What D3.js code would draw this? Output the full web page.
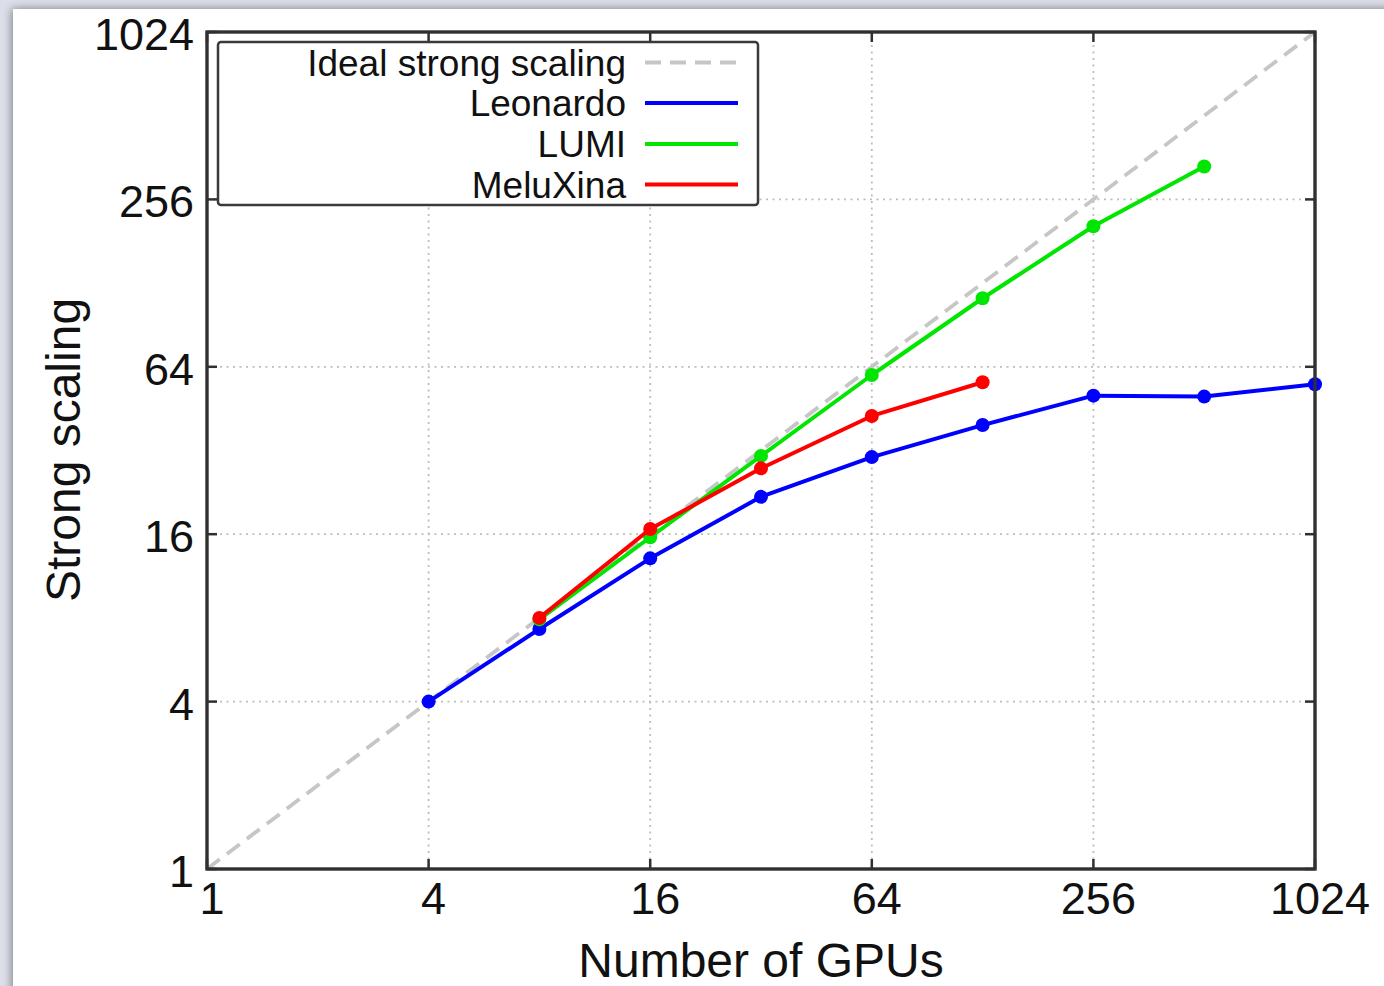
<!DOCTYPE html>
<html>
<head>
<meta charset="utf-8">
<script src="https://cdn.jsdelivr.net/npm/d3@7"></script>
<style>
  html, body { margin: 0; padding: 0; background: #dcdfe9; }
  svg { display: block; }
  text { font-family: "Liberation Sans", Arial, Helvetica, sans-serif; fill: #111; }
</style>
</head>
<body>
<svg id="chart" width="1384" height="986"></svg>
<script>
// Strong-scaling measurements (speed-up relative to 1 GPU)
const tickValues = [1, 4, 16, 64, 256, 1024];
const tickLabels = ["1", "4", "16", "64", "256", "1024"];

const idealGpus = [1, 1024];

const leonardoGpus = [4, 8, 16, 32, 64, 128, 256, 512, 1024];
const leonardoScaling = [4, 7.3, 13.1, 21.8, 30.3, 39.5, 50.4, 50.0, 55.4];

const lumiGpus = [8, 16, 32, 64, 128, 256, 512];
const lumiScaling = [7.9, 15.6, 30.6, 59.8, 112.9, 205, 336];

const meluxinaGpus = [8, 16, 32, 64, 128];
const meluxinaScaling = [8.0, 16.7, 27.6, 42.6, 56.3];

const seriesNames = ["Ideal strong scaling", "Leonardo", "LUMI", "MeluXina"];
const seriesColors = ["#c6c6c6", "#0000ff", "#00e600", "#ff0000"];

const svg = d3.select("#chart");
const W = 1384, H = 986;

// window-like backdrop with soft shadow
const defs = svg.append("defs");
const sh = defs.append("filter").attr("id", "shadow")
  .attr("x", "-5%").attr("y", "-5%").attr("width", "110%").attr("height", "110%");
sh.append("feGaussianBlur").attr("in", "SourceAlpha").attr("stdDeviation", 5).attr("result", "b");
sh.append("feOffset").attr("in", "b").attr("dx", -1).attr("dy", 0).attr("result", "o");
sh.append("feComponentTransfer").attr("in", "o").attr("result", "s")
  .append("feFuncA").attr("type", "linear").attr("slope", 0.45);
const m = sh.append("feMerge");
m.append("feMergeNode").attr("in", "s");
m.append("feMergeNode").attr("in", "SourceGraphic");

svg.append("rect").attr("width", W).attr("height", H).attr("fill", "#dcdfe9");
svg.append("rect").attr("x", 13).attr("y", 9).attr("width", W + 40).attr("height", H + 40)
  .attr("fill", "#ffffff").attr("filter", "url(#shadow)");

const plot = { left: 207, right: 1315, top: 32, bottom: 869 };

const x = d3.scaleLog().base(2).domain([1, 1024]).range([plot.left, plot.right]);
const y = d3.scaleLog().base(2).domain([1, 1024]).range([plot.bottom, plot.top]);

const g = svg.append("g");

// dotted grid
g.append("g").selectAll("line").data(tickValues.slice(1, -1)).join("line")
  .attr("x1", d => x(d)).attr("x2", d => x(d))
  .attr("y1", plot.top).attr("y2", plot.bottom)
  .attr("stroke", "#bdbdbd").attr("stroke-width", 1.8).attr("stroke-dasharray", "2,4.5");
g.append("g").selectAll("line").data(tickValues.slice(1, -1)).join("line")
  .attr("y1", d => y(d)).attr("y2", d => y(d))
  .attr("x1", plot.left).attr("x2", plot.right)
  .attr("stroke", "#bdbdbd").attr("stroke-width", 1.8).attr("stroke-dasharray", "2,4.5");

// ideal scaling diagonal
const line = d3.line().x(d => x(d[0])).y(d => y(d[1]));
g.append("path").datum(idealGpus.map(v => [v, v]))
  .attr("d", line).attr("fill", "none")
  .attr("stroke", seriesColors[0]).attr("stroke-width", 3.8).attr("stroke-dasharray", "16,9");

// measured series
const series = [
  { gpus: leonardoGpus, vals: leonardoScaling, color: seriesColors[1] },
  { gpus: lumiGpus, vals: lumiScaling, color: seriesColors[2] },
  { gpus: meluxinaGpus, vals: meluxinaScaling, color: seriesColors[3] }
];
series.forEach(s => {
  const pts = s.gpus.map((v, i) => [v, s.vals[i]]);
  g.append("path").datum(pts).attr("d", line).attr("fill", "none")
    .attr("stroke", s.color).attr("stroke-width", 4).attr("stroke-linejoin", "round");
  g.append("g").selectAll("circle").data(pts).join("circle")
    .attr("cx", d => x(d[0])).attr("cy", d => y(d[1])).attr("r", 7)
    .attr("fill", s.color);
});

// frame and inward ticks
const frameColor = "#303030";
const tk = 10;
const ticksG = g.append("g").attr("stroke", frameColor).attr("stroke-width", 2.5);
tickValues.forEach(v => {
  ticksG.append("line").attr("x1", x(v)).attr("x2", x(v)).attr("y1", plot.bottom).attr("y2", plot.bottom - tk);
  ticksG.append("line").attr("x1", x(v)).attr("x2", x(v)).attr("y1", plot.top).attr("y2", plot.top + tk);
  ticksG.append("line").attr("y1", y(v)).attr("y2", y(v)).attr("x1", plot.left).attr("x2", plot.left + tk);
  ticksG.append("line").attr("y1", y(v)).attr("y2", y(v)).attr("x1", plot.right).attr("x2", plot.right - tk);
});
g.append("rect").attr("x", plot.left).attr("y", plot.top)
  .attr("width", plot.right - plot.left).attr("height", plot.bottom - plot.top)
  .attr("fill", "none").attr("stroke", frameColor).attr("stroke-width", 3.4);

// tick labels
g.append("g").selectAll("text").data(tickValues).join("text")
  .attr("x", 194).attr("y", d => y(d) + 2.5)
  .attr("text-anchor", "end").attr("dominant-baseline", "central")
  .attr("font-size", 45).text((d, i) => tickLabels[i]);
g.append("g").selectAll("text").data(tickValues).join("text")
  .attr("x", d => x(d) + 5).attr("y", 914)
  .attr("text-anchor", "middle")
  .attr("font-size", 45).text((d, i) => tickLabels[i]);

// axis titles
svg.append("text").attr("x", 761).attr("y", 977).attr("text-anchor", "middle")
  .attr("font-size", 48).text("Number of GPUs");
svg.append("text").attr("transform", "translate(80,450) rotate(-90)")
  .attr("text-anchor", "middle").attr("font-size", 48).text("Strong scaling");

// legend
const lg = svg.append("g");
lg.append("rect").attr("x", 218).attr("y", 42).attr("width", 540).attr("height", 163)
  .attr("rx", 3).attr("fill", "#ffffff").attr("stroke", "#3a3a3a").attr("stroke-width", 2.5);
const rowY = [62.5, 103, 144, 184.5];
seriesNames.forEach((name, i) => {
  lg.append("text").attr("x", 626).attr("y", rowY[i] + 13)
    .attr("text-anchor", "end").attr("font-size", 37).text(name);
  lg.append("line").attr("x1", 645).attr("x2", 738).attr("y1", rowY[i]).attr("y2", rowY[i])
    .attr("stroke", seriesColors[i]).attr("stroke-width", 3.8)
    .attr("stroke-dasharray", i === 0 ? "16,9" : null);
});
</script>
</body>
</html>
